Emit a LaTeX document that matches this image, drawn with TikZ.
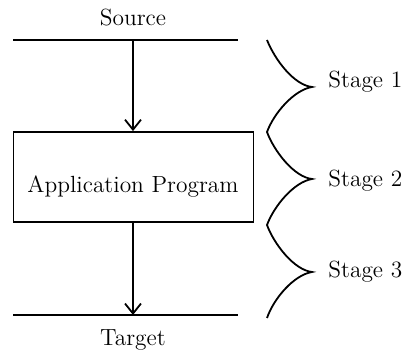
\documentclass[tikz,border=0pt]{standalone}
\usetikzlibrary{arrows.meta}
\begin{document}
\begin{tikzpicture}[x=0.5pt,y=-0.5pt,
  lbl/.style={font=\fontsize{11.7}{14}\selectfont, inner sep=0pt},
  ln/.style={line width=0.9pt},
  arr/.style={ln,-{Straight Barb[length=5pt,width=8pt,line width=0.9pt]}},
  brc/.style={line width=0.9pt, line join=miter}]
\useasboundingbox (0,0) rectangle (402,351);
% source / target lines
\coordinate (s1) at (13,40); \coordinate (s2) at (238,40);
\coordinate (t1) at (13,315); \coordinate (t2) at (238,315);
\coordinate (stop) at (133,40); \coordinate (tbot) at (133,315);
\draw[ln] (s1) -- (s2);
\draw[ln] (t1) -- (t2);
\node[lbl, anchor=base] (src) at (133,26) {Source};
\node[lbl, anchor=base] (tgt) at (133,346) {Target};
% box
\node[draw, ln, minimum width=120pt, minimum height=45pt, inner sep=0pt] (app) at (133.5,177) {};
\node[lbl, anchor=base] (appl) at (133,193) {Application Program};
\draw[arr] (stop) -- (stop |- app.north);
\draw[arr] (stop |- app.south) -- (tbot);
% braces
\coordinate (c0) at (267,40);
\coordinate (p1) at (312,87);
\coordinate (c1) at (267,132);
\coordinate (p2) at (312,179);
\coordinate (c2) at (267,225);
\coordinate (p3) at (312,272);
\coordinate (c3) at (267,318);
\draw[brc] (c0) .. controls (275,60) and (294,85) .. (p1)
  .. controls (294,90) and (274,113) .. (c1)
  .. controls (274,151) and (294,177) .. (p2)
  .. controls (294,182) and (274,206) .. (c2)
  .. controls (274,244) and (294,270) .. (p3)
  .. controls (294,275) and (274,298) .. (c3);
\node[lbl, anchor=base west] (st1) at (328,88) {Stage 1};
\node[lbl, anchor=base west] (st2) at (328,187) {Stage 2};
\node[lbl, anchor=base west] (st3) at (328,278) {Stage 3};
\end{tikzpicture}
\end{document}
